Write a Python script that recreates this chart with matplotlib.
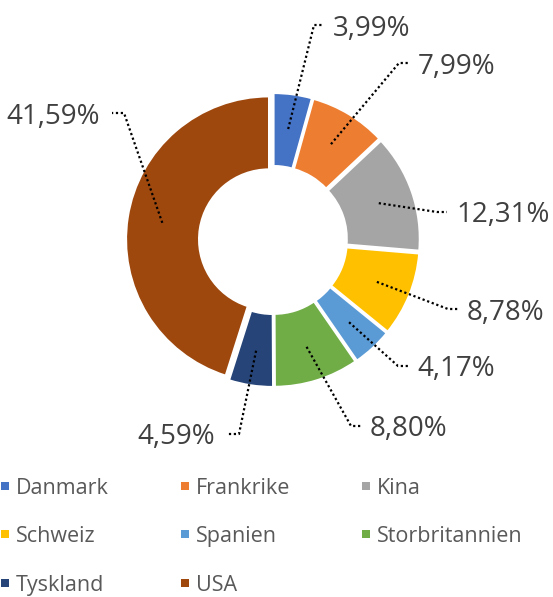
import numpy as np
import matplotlib.pyplot as plt

plt.rcParams['font.family'] = ['Open Sans', 'DejaVu Sans']

countries = ["Danmark", "Frankrike", "Kina", "Schweiz", "Spanien",
             "Storbritannien", "Tyskland", "USA"]
shares = [3.99, 7.99, 12.31, 8.78, 4.17, 8.80, 4.59, 41.59]
labels = ["3,99%", "7,99%", "12,31%", "8,78%", "4,17%", "8,80%", "4,59%", "41,59%"]
colors = ["#4472C4", "#ED7D31", "#A5A5A5", "#FFC000", "#5B9BD5",
          "#70AD47", "#264478", "#9E480E"]

# label text positions in pixels (x edge, y centre) and side of the pie
label_pos = [(333, 25), (418, 63), (456, 212), (467, 309), (417, 366),
             (370, 426), (215, 434), (100, 113)]
label_side = ["right", "right", "right", "right", "right", "right", "left", "left"]

W, H = 553, 597
fig = plt.figure(figsize=(W / 100, H / 100), dpi=100)
ax = fig.add_axes([0, 0, 1, 1])

cx, cy, r = 273, 240, 143
wedges, _ = ax.pie(shares, colors=colors, radius=r, center=(cx, cy),
                   startangle=-90, counterclock=True,
                   explode=[4] * len(shares),
                   wedgeprops=dict(width=73, edgecolor="white", linewidth=1.5))
ax.set_xlim(0, W)
ax.set_ylim(H, 0)
ax.set_aspect("auto")
ax.axis("off")

for w, lab, (tx, ty), side in zip(wedges, labels, label_pos, label_side):
    th = np.deg2rad((w.theta1 + w.theta2) / 2)
    wx, wy = w.center
    ax0 = wx + 108 * np.cos(th)
    ay0 = wy + 108 * np.sin(th)
    if side == "right":
        end = tx - 9
        elbow = end - 10
        ha = "left"
    else:
        end = tx + 12
        elbow = end + 12
        ha = "right"
    ax.plot([ax0, elbow, end], [ay0, ty, ty], color="black", linestyle=(0, (1, 1.2)),
            linewidth=1.6, solid_capstyle="butt")
    ax.text(tx, ty, lab, fontsize=20, color="#404040", ha=ha, va="center_baseline")

# legend, 3 columns
col_x = [5, 185, 366]
row_y = [486, 534, 583]
for i, (name, c) in enumerate(zip(countries, colors)):
    x = col_x[i % 3]
    y = row_y[i // 3]
    ax.scatter([x], [y], marker="s", s=36, color=c, linewidths=0)
    ax.text(x + 11, y, name, fontsize=15.5, color="#595959", ha="left", va="center_baseline")

fig.savefig("out.png", dpi=100)
